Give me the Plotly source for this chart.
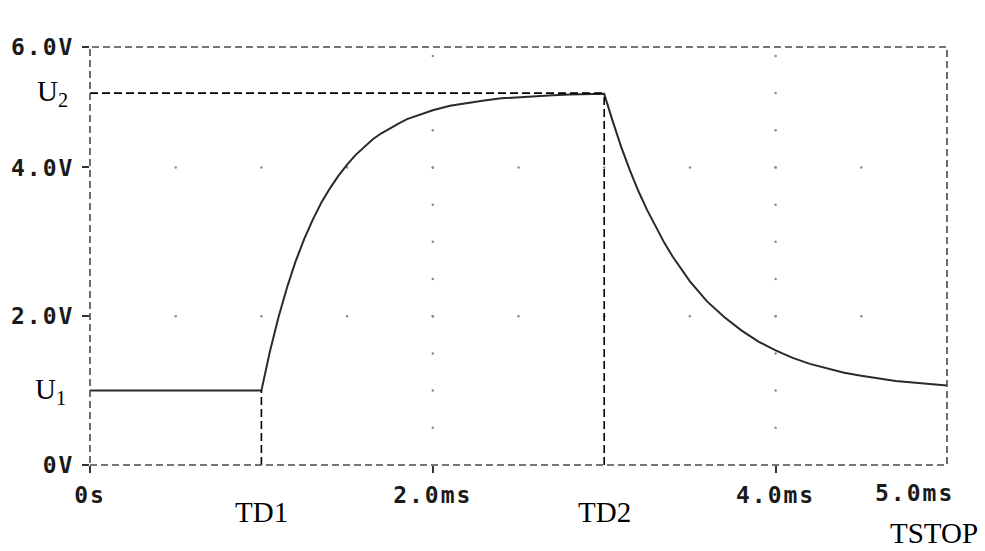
import numpy as np
import plotly.graph_objects as go

# ---- data (time in ms, voltage in V) ----
t_ms = [0.0, 1.0, 1.05, 1.1, 1.15, 1.2, 1.25, 1.3, 1.35, 1.4, 1.45, 1.5, 1.55, 1.6, 1.65, 1.7,
        1.75, 1.8, 1.85, 1.9, 1.95, 2.0, 2.1, 2.2, 2.3, 2.4, 2.5, 2.6, 2.7, 2.8, 2.9, 3.0,
        3.05, 3.1, 3.15, 3.2, 3.25, 3.3, 3.35, 3.4, 3.45, 3.5, 3.6, 3.7, 3.8, 3.9, 4.0,
        4.1, 4.2, 4.3, 4.4, 4.5, 4.6, 4.7, 4.8, 4.9, 5.0]
v_out = [1.0, 1.0, 1.53, 1.99, 2.39, 2.74, 3.04, 3.30, 3.53, 3.72, 3.89, 4.04, 4.17, 4.28, 4.38, 4.46,
         4.53, 4.59, 4.65, 4.69, 4.73, 4.77, 4.83, 4.87, 4.90, 4.93, 4.94, 4.96, 4.97, 4.98, 4.99, 4.99,
         4.62, 4.27, 3.96, 3.68, 3.43, 3.20, 2.99, 2.80, 2.63, 2.47, 2.20, 1.99, 1.81, 1.66, 1.54,
         1.44, 1.36, 1.30, 1.24, 1.20, 1.16, 1.13, 1.11, 1.09, 1.07]

U1 = 1.0
U2 = 5.0
TD1 = 1.0
TD2 = 3.0
TSTOP = 5.0

x_tickvals = [0, 2, 4]
x_ticktext = ["0s", "2.0ms", "4.0ms"]
x_end_label = "5.0ms"
Y_TOP = 5.62  # top edge of the plotted window, labelled "6.0V" in the reference
y_tickvals = [0, 2, 4, Y_TOP]
y_ticktext = ["0V", "2.0V", "4.0V", "6.0V"]

grid_major_x = [2, 4]
grid_major_y = [2, 4]
grid_step = 0.5

MONO = "DejaVu Sans Mono"
SERIF = "Liberation Serif"
INK = "#1a1a1a"
TICK_SIZE = 23

fig = go.Figure()

# dotted grid (dots every half division along the major grid lines)
gx, gy = [], []
for yv in grid_major_y:
    for xv in np.arange(grid_step, TSTOP, grid_step):
        gx.append(xv); gy.append(yv)
for xv in grid_major_x:
    for yv in np.arange(grid_step, Y_TOP, grid_step):
        gx.append(xv); gy.append(yv)
fig.add_trace(go.Scatter(x=gx, y=gy, mode="markers",
                         marker=dict(size=2.5, color="#8a8a8a"),
                         hoverinfo="skip", showlegend=False))

# waveform
fig.add_trace(go.Scatter(x=t_ms, y=v_out, mode="lines",
                         line=dict(color="#2a2a2a", width=2),
                         showlegend=False))

dash_marker = dict(color="black", width=1.6, dash="8px,4px")
fig.add_shape(type="line", x0=0, x1=TD2, y0=U2, y1=U2, xref="x", yref="y", line=dash_marker)
fig.add_shape(type="line", x0=TD2, x1=TD2, y0=0, y1=U2, xref="x", yref="y", line=dash_marker)
fig.add_shape(type="line", x0=TD1, x1=TD1, y0=0, y1=U1, xref="x", yref="y", line=dash_marker)

# dashed frame
fig.add_shape(type="rect", x0=0, x1=1, y0=0, y1=1, xref="paper", yref="paper",
              line=dict(color="#4a4a4a", width=1.6, dash="7px,4px"), layer="above")

serif_font = dict(family=SERIF, size=29, color="black")
fig.add_annotation(x=0, xref="paper", y=U2, yref="y", text="U<sub>2</sub>",
                   showarrow=False, xanchor="right", yanchor="middle", xshift=-20, font=serif_font)
fig.add_annotation(x=0, xref="paper", y=U1, yref="y", text="U<sub>1</sub>",
                   showarrow=False, xanchor="right", yanchor="middle", xshift=-22, font=serif_font)
fig.add_annotation(x=TD1, xref="x", y=0, yref="paper", text="TD1",
                   showarrow=False, xanchor="center", yanchor="top", yshift=-29, font=serif_font)
fig.add_annotation(x=TD2, xref="x", y=0, yref="paper", text="TD2",
                   showarrow=False, xanchor="center", yanchor="top", yshift=-29, font=serif_font)
fig.add_annotation(x=TSTOP, xref="x", y=0, yref="paper", text="TSTOP",
                   showarrow=False, xanchor="right", yanchor="top", yshift=-50, xshift=33, font=serif_font)
fig.add_annotation(x=TSTOP, xref="x", y=0, yref="paper", text=x_end_label,
                   showarrow=False, xanchor="right", yanchor="top", yshift=-13, xshift=4,
                   font=dict(family=MONO, size=TICK_SIZE, color=INK, weight="bold"))

fig.update_xaxes(range=[0, TSTOP], tickvals=x_tickvals, ticktext=x_ticktext,
                 showgrid=False, zeroline=False, showline=False,
                 ticks="outside", ticklen=7, tickwidth=1.5, tickcolor="#333",
                 ticklabelstandoff=2,
                 tickfont=dict(family=MONO, size=TICK_SIZE, color=INK, weight="bold"))
fig.update_yaxes(range=[0, Y_TOP], tickvals=y_tickvals, ticktext=y_ticktext,
                 showgrid=False, zeroline=False, showline=False,
                 ticks="outside", ticklen=7, tickwidth=1.5, tickcolor="#333",
                 ticklabelstandoff=3,
                 tickfont=dict(family=MONO, size=TICK_SIZE, color=INK, weight="bold"))

fig.update_layout(width=985, height=551,
                  margin=dict(l=90, r=38, t=47, b=86),
                  paper_bgcolor="white", plot_bgcolor="white",
                  showlegend=False)

post = """
document.querySelectorAll('text').forEach(function(t){
  var ff = (t.style.fontFamily || '') + (t.getAttribute('font-family') || '');
  if (ff.indexOf('Mono') >= 0) { t.style.letterSpacing = '2px'; }
});
"""
fig.write_html("out.html", post_script=post)
